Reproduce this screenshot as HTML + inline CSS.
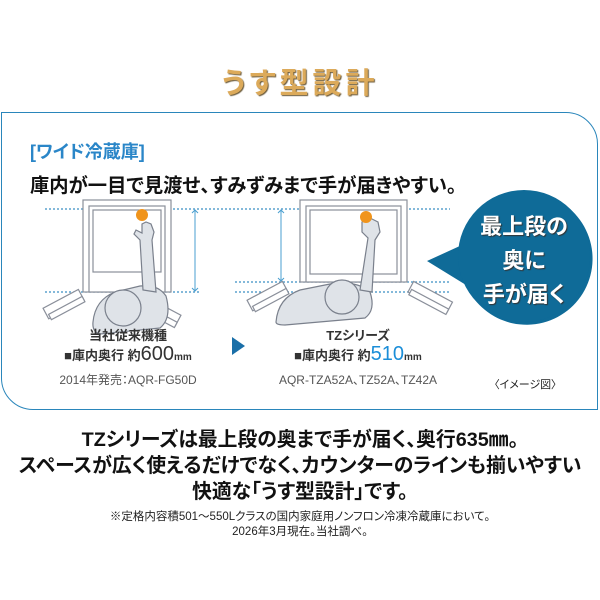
<!DOCTYPE html>
<html><head><meta charset="utf-8"><style>
body{margin:0;width:600px;height:600px;background:#fff;position:relative;overflow:hidden;font-family:"Liberation Sans","Noto Sans CJK JP",sans-serif;font-feature-settings:"palt";}
.t{position:absolute;white-space:nowrap;}
</style></head><body>
<div class="t" style="left:0;width:600px;text-align:center;top:60px;font-size:29px;font-weight:bold;color:#dcaa5a;text-shadow:1px 1px 1px #6b5a3a;letter-spacing:4px">うす型設計</div>
<div style="position:absolute;left:1px;top:112px;width:595px;height:296px;border:1.5px solid #2a86bb;border-radius:0 32px 0 32px;"></div>
<div class="t" style="left:30px;top:138px;font-size:18px;font-weight:bold;color:#2a86c8">[ワイド冷蔵庫]</div>
<div class="t" style="left:30px;top:170px;font-size:19.3px;font-weight:bold;color:#111">庫内が一目で見渡せ、すみずみまで手が届きやすい。</div>
<svg style="position:absolute;left:0;top:0" width="600" height="600">
<g stroke="#3a8fc4" stroke-width="1.2" stroke-dasharray="2,2" fill="none">
<line x1="45" y1="209" x2="450" y2="209"/>
<line x1="45" y1="292" x2="200" y2="292"/>
<line x1="235" y1="282" x2="450" y2="282"/>
<line x1="235" y1="292" x2="450" y2="292"/>
</g>
<g stroke="#4a9fd0" stroke-width="1" fill="none">
<line x1="195" y1="210" x2="195" y2="291"/><line x1="281" y1="210" x2="281" y2="281"/>
<path d="M192 213 L195 210 L198 213 M192 288 L195 291 L198 288 M278 213 L281 210 L284 213 M278 278 L281 281 L284 278"/>
</g>
<g stroke="#8a8f9a" stroke-width="1.2" fill="#fff">
<rect x="83" y="200" width="88" height="92"/><rect x="89" y="206" width="76" height="86"/><rect x="93" y="210" width="68" height="62"/>
<rect x="300" y="200" width="107" height="82"/><rect x="306" y="206" width="95" height="76"/><rect x="310" y="210" width="87" height="64"/>
<g transform="rotate(-28 64 305)"><rect x="44" y="298" width="40" height="12"/><rect x="46" y="306" width="38" height="6"/></g>
<g transform="rotate(28 160 312)"><rect x="140" y="305" width="40" height="12"/><rect x="142" y="313" width="38" height="6"/></g>
<g transform="rotate(-28 268 297)"><rect x="248" y="290" width="40" height="12"/><rect x="250" y="298" width="38" height="6"/></g>
<g transform="rotate(28 428 297)"><rect x="408" y="290" width="44" height="12"/><rect x="410" y="298" width="42" height="6"/></g>
</g>
<g stroke="#7a808c" stroke-width="1.2" fill="#dfe3e8">
<path d="M93 322 Q95 300 115 292 L140 286 Q158 284 166 296 Q172 318 160 328 L100 334 Q92 332 93 322 Z"/>
<path d="M143 290 L140 240 L134 234 L136 230 L142 233 L142 224 L146 222 L151 224 L154 232 L152 240 L156 292 Z"/>
<circle cx="123" cy="308" r="18"/>
<path d="M276 322 Q278 298 300 290 L335 283 Q360 282 370 292 Q376 310 365 318 L285 325 Q276 325 276 322 Z"/>
<path d="M360 290 L368 238 L362 232 L362 222 L370 218 L378 222 L380 232 L375 240 L372 292 Z"/>
<circle cx="342" cy="297" r="17"/>
</g>
<circle cx="142" cy="215" r="6" fill="#f0941c"/>
<circle cx="366" cy="217" r="6" fill="#f0941c"/>
<polygon points="232,337 245,346 232,355" fill="#1a6fa8"/>
<path d="M427 261 L462 245 A66 66 0 1 1 466 285 Z" fill="#0f6b98"/>
<circle cx="524" cy="256" r="66" fill="#0f6b98"/>
</svg>
<div class="t" style="left:458px;width:132px;text-align:center;top:210px;font-size:22px;line-height:34px;font-weight:bold;color:#fff;text-shadow:1px 1px 1px #333">最上段の<br>奥に<br>手が届く</div>
<div class="t" style="left:40px;width:176px;text-align:center;top:325px;font-size:13px;font-weight:bold;color:#333">当社従来機種</div>
<div class="t" style="left:40px;width:176px;text-align:center;top:343px;font-size:13px;font-weight:bold;color:#333">■庫内奥行 約<span style="font-size:20px;font-weight:normal">600</span><span style="font-size:10px">mm</span></div>
<div class="t" style="left:40px;width:176px;text-align:center;top:371px;font-size:12px;color:#555">2014年発売：AQR-FG50D</div>
<div class="t" style="left:270px;width:176px;text-align:center;top:325px;font-size:13px;font-weight:bold;color:#333">TZシリーズ</div>
<div class="t" style="left:270px;width:176px;text-align:center;top:343px;font-size:13px;font-weight:bold;color:#333">■庫内奥行 約<span style="font-size:20px;font-weight:normal;color:#1b8ed8">510</span><span style="font-size:10px">mm</span></div>
<div class="t" style="left:270px;width:176px;text-align:center;top:371px;font-size:12px;color:#555">AQR-TZA52A、TZ52A、TZ42A</div>
<div class="t" style="left:494px;top:376px;font-size:11px;color:#222">〈イメージ図〉</div>
<div class="t" style="left:0;width:600px;text-align:center;top:427px;font-size:19.8px;line-height:26px;font-weight:bold;color:#111">TZシリーズは最上段の奥まで手が届く、奥行635㎜。<br>スペースが広く使えるだけでなく、カウンターのラインも揃いやすい<br>快適な「うす型設計」です。</div>
<div class="t" style="left:0;width:600px;text-align:center;top:510px;font-size:11.5px;line-height:15px;color:#222">※定格内容積501～550Lクラスの国内家庭用ノンフロン冷凍冷蔵庫において。<br>2026年3月現在。当社調べ。</div>
</body></html>
